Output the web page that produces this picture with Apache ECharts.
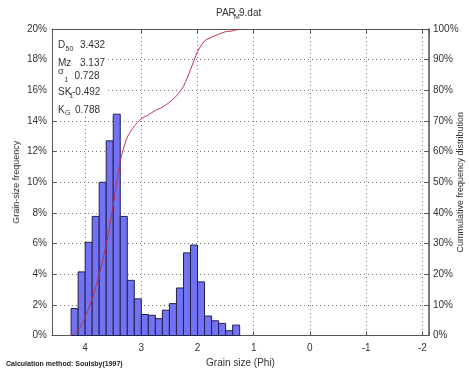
<!DOCTYPE html>
<html><head><meta charset="utf-8">
<script src="https://cdn.jsdelivr.net/npm/echarts@6/dist/echarts.min.js"></script>
<style>html,body{margin:0;padding:0;background:#fff}#c{width:469px;height:375px}</style>
</head><body><div id="c"></div>
<script>
// Bin edges (phi), bars span from one edge to the next
const binEdges = [4.25,4.125,4.0,3.875,3.75,3.625,3.5,3.375,3.25,3.125,3.0,2.875,2.75,2.625,2.5,2.375,2.25,2.125,2.0,1.875,1.75,1.625,1.5,1.375,1.25];
// Grain-size frequency (%) per bin
const frequency = [1.76,4.15,6.08,7.77,10.0,12.7,14.44,7.77,3.6,2.39,1.37,1.32,1.1,1.65,2.08,3.1,5.39,5.9,3.5,1.27,0.96,0.79,0.31,0.68];
// Cumulative frequency distribution (%) at each bin edge
const cumulative = [0,1.8,5.9,12.0,19.8,29.8,42.5,56.9,64.7,68.3,70.7,72.0,73.4,74.5,76.1,78.2,81.3,86.7,92.6,96.1,97.3,98.3,99.1,99.4,100];
// Tick labels
const xTicks = [4,3,2,1,0,-1,-2];
const freqTicks = [0,2,4,6,8,10,12,14,16,18,20];
const cumTicks = [0,10,20,30,40,50,60,70,80,90,100];

const FONT = '"Liberation Sans", Arial, sans-serif';
const AX = '#555';
const TXT = '#333';

const chart = echarts.init(document.getElementById('c'), null, {renderer:'canvas'});
const barData = frequency.map((v,i)=>[binEdges[i], binEdges[i+1], v]);
const lineData = binEdges.map((e,i)=>[e, cumulative[i]]);

function txt(text, x, y, size, extra){
  return Object.assign({type:'text', x:x, y:y, z:101,
    style:{text:text, fontSize:size, fontFamily:FONT, fill:TXT, textVerticalAlign:'middle', verticalAlign:'middle'}}, extra||{});
}

const option = {
  animation:false,
  grid:{left:52, right:40, top:29, bottom:39.5, show:false, containLabel:false, outerBoundsMode:'none'},
  xAxis:[{
    type:'value', inverse:true, min:-2.12, max:4.59, position:'bottom',
    axisLine:{show:true, onZero:false, lineStyle:{color:AX, width:1}},
    axisTick:{show:true, inside:true, length:4, lineStyle:{color:AX}},
    axisLabel:{formatter:v=> xTicks.includes(v) ? String(v) : '', color:TXT, fontSize:10, fontFamily:FONT, margin:8, showMinLabel:true, showMaxLabel:true},
    splitLine:{show:true, lineStyle:{type:[1,3], color:'#777', width:1}},
    name:'Grain size (Phi)', nameLocation:'middle', nameGap:23, nameMoveOverlap:false,
    nameTextStyle:{color:TXT, fontSize:10, fontFamily:FONT}
  },{
    type:'value', inverse:true, min:-2.12, max:4.59, position:'top',
    axisLine:{show:true, onZero:false, lineStyle:{color:AX, width:1}},
    axisTick:{show:true, inside:true, length:4, lineStyle:{color:AX}},
    axisLabel:{show:false}, splitLine:{show:false}
  }],
  yAxis:[{
    type:'value', min:0, max:20, interval:2, position:'left',
    axisLine:{show:true, onZero:false, lineStyle:{color:AX, width:1}},
    axisTick:{show:true, inside:true, length:4, lineStyle:{color:AX}},
    axisLabel:{formatter:v=> freqTicks.includes(v) ? v+'%' : '', color:TXT, fontSize:10, fontFamily:FONT, margin:5},
    splitLine:{show:true, lineStyle:{type:[1,3], color:'#777', width:1}},
    name:'Grain-size frequency', nameLocation:'middle', nameGap:31, nameRotate:90, nameMoveOverlap:false,
    nameTextStyle:{color:TXT, fontSize:9, fontFamily:FONT}
  },{
    type:'value', min:0, max:100, interval:10, position:'right',
    axisLine:{show:true, onZero:false, lineStyle:{color:AX, width:1.5}},
    axisTick:{show:true, inside:true, length:4, lineStyle:{color:AX}},
    axisLabel:{formatter:v=> cumTicks.includes(v) ? v+'%' : '', color:TXT, fontSize:10, fontFamily:FONT, margin:4},
    splitLine:{show:false},
    name:'Cummulative frequency distribution', nameLocation:'middle', nameGap:27, nameRotate:90, nameMoveOverlap:false,
    nameTextStyle:{color:TXT, fontSize:9, fontFamily:FONT}
  }],
  series:[{
    type:'custom', xAxisIndex:0, yAxisIndex:0, data:barData, z:3,
    renderItem:function(params, api){
      const p1 = api.coord([api.value(0), api.value(2)]);
      const p2 = api.coord([api.value(1), 0]);
      const x = Math.min(p1[0], p2[0]);
      return {type:'rect', shape:{x:x, y:p1[1], width:Math.abs(p2[0]-p1[0]), height:p2[1]-p1[1]},
        style:{fill:'#7272f2', stroke:'#22224e', lineWidth:1}};
    }
  },{
    type:'line', xAxisIndex:0, yAxisIndex:1, data:lineData, z:5,
    showSymbol:false, symbol:'none', smooth:0.25,
    lineStyle:{color:'#c0304a', width:1}
  }],
  graphic:[
    {type:'rect', z:100, shape:{x:53, y:30, width:55, height:86}, style:{fill:'#fff'}},
    txt('D', 58, 45, 10), txt('50', 65.5, 49.5, 7), txt('3.432', 80, 45, 10),
    txt('Mz', 58, 63, 10), txt('3.137', 80, 63, 10),
    txt('σ', 58, 72, 9), txt('1', 64.5, 80, 7), txt('0.728', 74.5, 76, 10),
    txt('SK', 58, 92.5, 10), txt('1', 69.5, 96.5, 7), txt('-0.492', 72, 92.5, 10),
    txt('K', 58, 110, 10), txt('G', 65, 113.5, 7), txt('0.788', 75, 110, 10),
    txt('PAR', 216, 13.5, 10), txt('M', 234, 17.5, 7), txt('9.dat', 239, 13.5, 10),
    txt('Calculation method: Soulsby(1997)', 6, 364, 7, {style:{text:'Calculation method: Soulsby(1997)', fontSize:7, fontWeight:'bold', fontFamily:FONT, fill:'#222', textVerticalAlign:'middle', verticalAlign:'middle'}})
  ]
};
chart.setOption(option);
</script>
</body></html>
